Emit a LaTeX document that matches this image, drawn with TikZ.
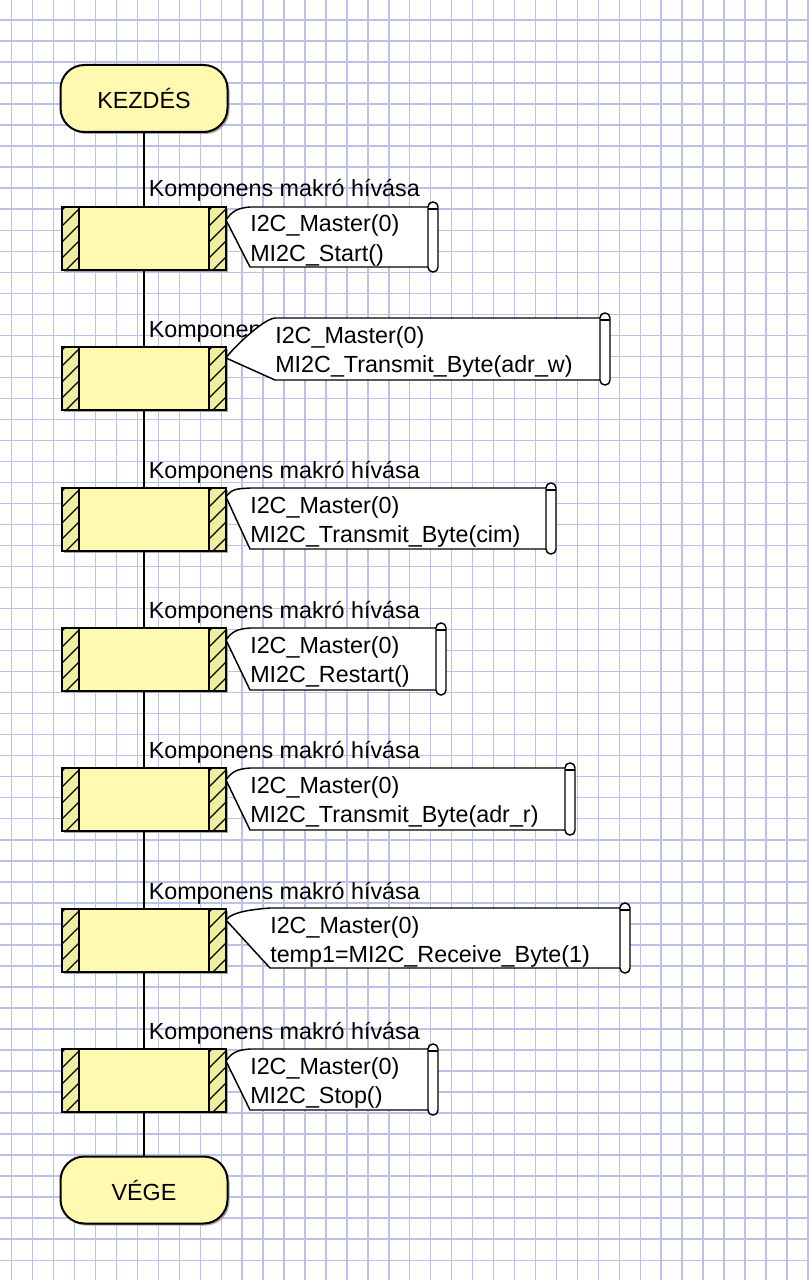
\documentclass[tikz,border=0pt]{standalone}
\usepackage{fontspec}
\setmainfont{Liberation Sans}
\usetikzlibrary{calc,shadows}
\definecolor{gridc}{RGB}{186,194,232}
\definecolor{boxfill}{RGB}{255,250,175}
\definecolor{stripfill}{RGB}{240,238,160}
\definecolor{shadowc}{RGB}{165,165,165}
\tikzset{
  gridline/.style={draw=gridc, line width=1.05pt},
  term/.style={draw=black, line width=1.5pt, fill=boxfill, rounded corners=18pt,
    minimum width=125.25pt, minimum height=50.25pt, inner sep=0pt, outer sep=0pt,
    font=\fontsize{17.5pt}{21pt}\selectfont,
    drop shadow={shadow xshift=1.5pt,shadow yshift=-1.5pt,fill=shadowc,opacity=1}},
  macrobox/.style={draw=black, line width=1.5pt, fill=boxfill,
    minimum width=123pt, minimum height=47.25pt, inner sep=0pt, outer sep=0pt,
    drop shadow={shadow xshift=1.5pt,shadow yshift=-1.5pt,fill=shadowc,opacity=1}},
  lbl/.style={anchor=base west, inner sep=0pt, font=\fontsize{17.5pt}{21pt}\selectfont},
  flowline/.style={draw=black, line width=1.5pt},
  callout/.style={draw=black, line width=1.1pt, fill=white},
  hatch/.style={draw=black, line width=0.9pt},
}
\begin{document}
\begin{tikzpicture}[x=0.75pt,y=-0.75pt]
\useasboundingbox (0,0) rectangle (808,1280);
\fill[white] (0,0) rectangle (808,1280);
\foreach \k in {0,...,38} \draw[gridline] ({11.7+20.95*\k},0) -- ({11.7+20.95*\k},1280);
\foreach \k in {0,...,61} \draw[gridline] (0,{-1+21.02*\k}) -- (808,{-1+21.02*\k});

% terminals
\node[term] (start) at (144,98.5) {KEZDÉS};
\node[term] (stop) at (144,1190) {VÉGE};

% macro boxes
\foreach \i/\tp in {1/207,2/347,3/488,4/628,5/768,6/909,7/1049}{
  \node[macrobox] (b\i) at (144,{\tp+31.5}) {};
  \fill[stripfill] ($(b\i.north west)+(1,1)$) rectangle ($(b\i.south west)+(17,-1)$);
  \fill[stripfill] ($(b\i.north east)+(-1,1)$) rectangle ($(b\i.south east)+(-17,-1)$);
  \begin{scope}
    \clip (b\i.north west) rectangle ($(b\i.south west)+(17,0)$);
    \foreach \k in {0,...,4} \draw[hatch] ($(b\i.south west)+(0,{4-16*\k})$) -- ++(26,-26);
  \end{scope}
  \begin{scope}
    \clip (b\i.north east) rectangle ($(b\i.south east)+(-17,0)$);
    \foreach \k in {0,...,4} \draw[hatch] ($(b\i.south east)+(-17,{4-16*\k})$) -- ++(26,-26);
  \end{scope}
  \draw[flowline] ($(b\i.north west)+(17,0)$) -- ($(b\i.south west)+(17,0)$);
  \draw[flowline] ($(b\i.north east)+(-17,0)$) -- ($(b\i.south east)+(-17,0)$);
  \draw[flowline] (b\i.north west) rectangle (b\i.south east);
  \node[lbl] (l\i) at (148.5,{\tp-10}) {Komponens makró hívása};
}

% flow connectors
\draw[flowline] (start) -- (b1);
\foreach \i/\j in {1/2,2/3,3/4,4/5,5/6,6/7} \draw[flowline] (b\i) -- (b\j);
\draw[flowline] (b7) -- (stop);

% callouts
\foreach \i/\tp/\xl/\yt/\yb/\xr/\ya/\lb in {
  1/207/250/207/267/430/220/{MI2C\_Start()},
  2/347/275/318/380/602/358/{MI2C\_Transmit\_Byte(adr\_w)},
  3/488/250/488/549/548/497/{MI2C\_Transmit\_Byte(cim)},
  4/628/250/628/690/438/640/{MI2C\_Restart()},
  5/768/250/768/830/567/780/{MI2C\_Transmit\_Byte(adr\_r)},
  6/909/270/908/968/622/920/{temp1=MI2C\_Receive\_Byte(1)},
  7/1049/250/1049/1110/430/1061/{MI2C\_Stop()}}{
  \coordinate (a\i) at ($(b\i.north east)+(0,{\ya-\tp})$);
  \filldraw[callout] (a\i) .. controls +(6,-9) and +(-12,1) .. (\xl,\yt)
     -- (\xr,\yt) -- (\xr,\yb) -- (\xl,\yb) -- cycle;
  \filldraw[callout, rounded corners=3.6pt] ({\xr-2},{\yt-5}) rectangle ({\xr+8},{\yb+5});
  \draw[callout] ({\xr-2},{\yt+2}) -- ({\xr+8},{\yt+2});
  \node[lbl] (c\i a) at (\xl,{\yt+25}) {I2C\_Master(0)};
  \node[lbl] (c\i b) at (\xl,{\yt+54}) {\lb};
}
\end{tikzpicture}
\end{document}
